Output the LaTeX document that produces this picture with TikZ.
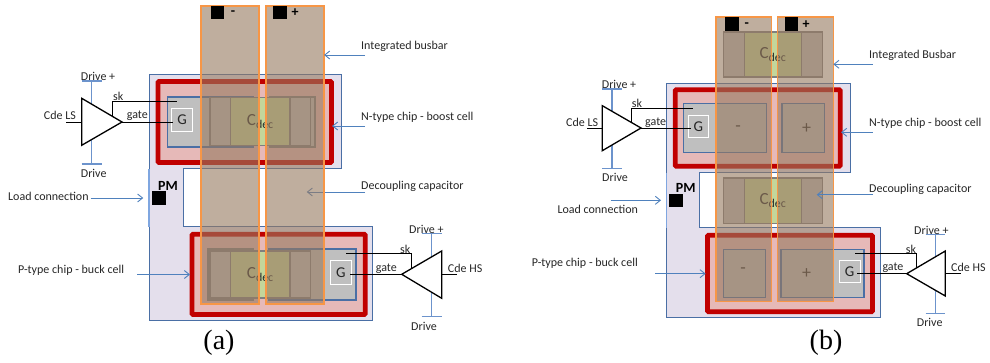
\documentclass[tikz,border=0pt]{standalone}
\usepackage{fontspec}
\setmainfont{Carlito}
\newfontfamily\capfont{Liberation Serif}
\usetikzlibrary{positioning,arrows.meta}
\definecolor{pmfill}{HTML}{E4DFEC}
\definecolor{pmline}{HTML}{4A6FA5}
\definecolor{loadline}{HTML}{7FA6E0}
\definecolor{cellred}{HTML}{C00000}
\definecolor{cellfill}{HTML}{E6B9B8}
\definecolor{chipfill}{HTML}{BFBFBF}
\definecolor{padline}{HTML}{7F7F7F}
\definecolor{capfill}{HTML}{C3D69B}
\definecolor{barfill}{HTML}{977A60}
\definecolor{barline}{HTML}{F79646}
\definecolor{railline}{HTML}{6C93CC}
\definecolor{arrowline}{HTML}{4F81BD}
\definecolor{labeltext}{HTML}{262626}
\tikzset{
	box/.style={rectangle,inner sep=0pt,outer sep=0pt},
	cell/.style={box,draw=cellred,line width=4.8pt,rounded corners=1pt,fill=cellfill},
	chip/.style={box,draw=pmline,line width=1.3pt,fill=chipfill},
	gatebox/.style={box,draw=white,line width=1pt,fill=chipfill,text=labeltext,font=\fontsize{15}{15}\selectfont},
	pad/.style={box,draw=padline,line width=1.3pt,fill=chipfill},
	capbody/.style={box,draw=padline,line width=1.3pt,fill=capfill,text=labeltext,font=\fontsize{17}{17}\selectfont},
	busbar/.style={box,fill=barfill,fill opacity=0.61},
	barframe/.style={draw=barline,line width=1.6pt},
	pin/.style={box,fill=black,minimum size=13.6pt},
	lbl/.style={inner sep=0pt,anchor=west,text=labeltext,font=\fontsize{12}{12}\selectfont},
	pinlbl/.style={inner sep=0pt,text=black,font=\bfseries\fontsize{14}{14}\selectfont},
	chiplbl/.style={inner sep=0pt,text=labeltext,font=\fontsize{18}{18}\selectfont},
	caplbl/.style={inner sep=0pt,font=\capfont\fontsize{28}{28}\selectfont},
	pointer/.style={draw=arrowline,line width=0.9pt,-{Straight Barb[length=5pt,width=8pt]}},
	rail/.style={draw=railline,line width=1.1pt},
	wire/.style={draw=black,line width=0.9pt},
	driver/.style={draw=black,fill=white,line width=1.3pt,line join=miter}
}
\begin{document}
\begin{tikzpicture}[x=1pt, y=-1pt]
	\useasboundingbox (0,0) rectangle (990,363);
	% (a) module outline
	\draw[pmline,fill=pmfill,line width=1pt] (149,75) -- (341.5,75) -- (341.5,169) -- (183,169) -- (183,227) -- (372.5,227) -- (372.5,320.5) -- (149,320.5) -- cycle;
	\draw[loadline,line width=1.2pt] (149,169) -- (149,227);
	% (b) module outline
	\draw[pmline,fill=pmfill,line width=1pt] (666.7,83.3) -- (850,83.3) -- (850,172.7) -- (699,172.7) -- (699,227.7) -- (880,227.7) -- (880,317) -- (666.7,317) -- cycle;
	\draw[loadline,line width=1.2pt] (666.7,172.7) -- (666.7,227.7);

	\node[cell,minimum width=173.5pt,minimum height=81pt] (cellNa) at (244.75,122) {};
	\node[cell,minimum width=173.2pt,minimum height=80.3pt] (cellPa) at (278.6,274.35) {};
	\node[cell,minimum width=165pt,minimum height=76.4pt] (cellNb) at (757.7,128) {};
	\node[cell,minimum width=165pt,minimum height=76.6pt] (cellPb) at (790,273.5) {};

	% chips
	\begin{scope}[every node/.style={chip}]
		\node[minimum width=86pt,minimum height=50pt] (chipNa1) at (210.5,122) {};
		\node[draw=padline,minimum width=45pt,minimum height=50pt] (chipNa2) at (292.5,122) {};
		\node[draw=padline,minimum width=45pt,minimum height=51pt] (chipPa1) at (230.5,274.5) {};
		\node[minimum width=87pt,minimum height=51pt] (chipPa2) at (312.5,274.5) {};
		\node[minimum width=83.4pt,minimum height=49pt] (chipNb1) at (725,128.2) {};
		\node[minimum width=42.7pt,minimum height=49pt] (chipNb2) at (803.35,128.2) {};
		\node[minimum width=42.4pt,minimum height=48.4pt] (chipPb1) at (744.5,273.5) {};
		\node[minimum width=83pt,minimum height=48.4pt] (chipPb2) at (822.5,273.5) {};
	\end{scope}
	\node[gatebox,minimum width=21.7pt,minimum height=23pt] (gNa) at (182,119.8) {G};
	\node[gatebox,minimum width=21.7pt,minimum height=23.3pt] (gPa) at (340.85,272.65) {G};
	\node[gatebox,minimum width=20pt,minimum height=22pt] (gNb) at (698.3,126.3) {G};
	\node[gatebox,minimum width=20.7pt,minimum height=21.7pt] (gPb) at (849.65,271.85) {G};
	\node[chiplbl] (mNb) at (738,129) {-};
	\node[chiplbl] (pNb) at (806.7,129) {+};
	\node[chiplbl] (mPb) at (743,271) {-};
	\node[chiplbl] (pPb) at (806.7,273.3) {+};

	% decoupling capacitors
	\node[capbody,minimum width=59.3pt,minimum height=48pt] (capNa) at (260.35,121.8) {C\textsubscript{dec}};
	\node[pad,minimum width=20.7pt,minimum height=48pt,left=0pt of capNa] (capNaL) {};
	\node[pad,minimum width=20.7pt,minimum height=48pt,right=0pt of capNa] (capNaR) {};
	\node[capbody,minimum width=59.3pt,minimum height=47pt] (capPa) at (260.35,274.4) {C\textsubscript{dec}};
	\node[pad,minimum width=20.7pt,minimum height=47pt,left=0pt of capPa] (capPaL) {};
	\node[pad,minimum width=20.7pt,minimum height=47pt,right=0pt of capPa] (capPaR) {};
	\node[capbody,minimum width=57.4pt,minimum height=45pt] (capTb) at (773,54.5) {C\textsubscript{dec}};
	\node[pad,minimum width=21pt,minimum height=45pt,left=0pt of capTb] (capTbL) {};
	\node[pad,minimum width=21pt,minimum height=45pt,right=0pt of capTb] (capTbR) {};
	\node[capbody,minimum width=57.4pt,minimum height=45.5pt] (capMb) at (773,200.75) {C\textsubscript{dec}};
	\node[pad,minimum width=21pt,minimum height=45.5pt,left=0pt of capMb] (capMbL) {};
	\node[pad,minimum width=21pt,minimum height=45.5pt,right=0pt of capMb] (capMbR) {};

	% this arrow lies under the busbar in (a)
	\coordinate (decFroma) at (365,192);
	\coordinate (decToa) at (306.7,192);
	\draw[pointer] (decFroma) -- (decToa);

	% busbars
	\begin{scope}[every node/.style={busbar}]
		\node[minimum width=58.3pt,minimum height=298pt] (barMa) at (229.85,155) {};
		\node[minimum width=58pt,minimum height=298pt] (barPa) at (295,155) {};
		\node[minimum width=55.6pt,minimum height=284pt] (barMb) at (743.5,159.3) {};
		\node[minimum width=56pt,minimum height=284pt] (barPb) at (805.3,159.3) {};
	\end{scope}
	\draw[barframe] (barMa.north west) rectangle (barMa.south east);
	\draw[barframe] (barPa.north west) rectangle (barPa.south east);
	\draw[barframe] (barMb.north west) rectangle (barMb.south east);
	\draw[barframe] (barPb.north west) rectangle (barPb.south east);
	\node[pin] (pinMa) at (217.5,12.5) {};
	\node[pin] (pinPa) at (279.7,12.5) {};
	\node[pin] (pinLa) at (158.8,198) {};
	\node[pin] (pinMb) at (731.7,24) {};
	\node[pin] (pinPb) at (791.3,24) {};
	\node[pin] (pinLb) at (675.7,200.7) {};
	\node[pinlbl] (txtMa) at (233,13) {-};
	\node[pinlbl] (txtPa) at (295,13) {+};
	\node[pinlbl,anchor=west] (txtPMa) at (158,186) {PM};
	\node[pinlbl] (txtMb) at (746.7,25) {-};
	\node[pinlbl] (txtPb) at (806,25) {+};
	\node[pinlbl,anchor=west] (txtPMb) at (675.7,188.3) {PM};

	% drivers of (a)
	\coordinate (supLaT) at (91.7,81);
	\coordinate (supLaB) at (91.7,164);
	\coordinate (supRaT) at (431.7,233.3);
	\coordinate (supRaB) at (431.7,316.7);
	\draw[rail] (supLaT) -- (supLaB);
	\draw[rail] (81.7,81) -- (101.7,81);
	\draw[rail] (81.7,164) -- (101.7,164);
	\draw[rail] (supRaT) -- (supRaB);
	\draw[rail] (421.7,233.3) -- (441.7,233.3);
	\draw[rail] (421.7,316.7) -- (441.7,316.7);
	\coordinate (tipLa) at (122,122);
	\coordinate (tipRa) at (401.7,274.3);
	\coordinate (inLa) at (66,122);
	\coordinate (inRa) at (456.7,274.3);
	\draw[wire] (inLa) -- (81.7,122);
	\draw[wire] (inRa) -- (441.7,274.3);
	\draw[driver] (81.7,98.3) -- (tipLa) -- (81.7,145.3) -- cycle;
	\draw[driver] (441.7,251) -- (tipRa) -- (441.7,298.3) -- cycle;
	\draw[wire] (112.3,116) -- (112.3,101) -- (176.7,101);
	\draw[wire] (tipLa) -- (173.3,122);
	\draw[wire] (346,253.3) -- (411,253.3) -- (411,268);
	\draw[wire] (tipRa) -- (350,274.3);

	% drivers of (b)
	\coordinate (supLbT) at (612,89);
	\coordinate (supLbB) at (612,168.3);
	\coordinate (supRbT) at (935.7,234.3);
	\coordinate (supRbB) at (935.7,313.7);
	\draw[rail] (supLbT) -- (supLbB);
	\draw[rail] (602.3,89) -- (621.7,89);
	\draw[rail] (602.3,168.3) -- (621.7,168.3);
	\draw[rail] (supRbT) -- (supRbB);
	\draw[rail] (925.7,234.3) -- (945.3,234.3);
	\draw[rail] (925.7,313.7) -- (945.3,313.7);
	\coordinate (tipLb) at (641,128);
	\coordinate (tipRb) at (906.7,273.7);
	\coordinate (inLb) at (587.3,128);
	\coordinate (inRb) at (960.7,273.7);
	\draw[wire] (inLb) -- (602.3,128);
	\draw[wire] (inRb) -- (945.3,273.7);
	\draw[driver] (602.3,105.7) -- (tipLb) -- (602.3,150.7) -- cycle;
	\draw[driver] (945.3,251) -- (tipRb) -- (945.3,296) -- cycle;
	\draw[wire] (631.3,122) -- (631.3,108.3) -- (693.3,108.3);
	\draw[wire] (tipLb) -- (690.7,128);
	\draw[wire] (855,253.7) -- (916.3,253.7) -- (916.3,268);
	\draw[wire] (tipRb) -- (856.7,273.7);

	% pointers
	\draw[pointer] (365,55) -- (barPa.east |- 0,55);
	\draw[pointer] (365,126) -- (332,126);
	\draw[pointer] (90.7,198) -- (143.3,198);
	\draw[pointer] (137,274.5) -- (190,274.5);
	\draw[pointer] (872.7,64.3) -- (barPb.east |- 0,64.3);
	\draw[pointer] (872.7,132.3) -- (841,132.3);
	\draw[pointer] (872.7,194.7) -- (816.7,194.7);
	\draw[pointer] (610.7,200.3) -- (661,200.3);
	\draw[pointer] (655,273.7) -- (705.7,273.7);

	% labels of (a)
	\begin{scope}[every node/.style={lbl}]
		\node (lblDpLa) at (80.7,76) {Drive +};
		\node (lblDmLa) at (80.7,173) {Drive};
		\node (lblSkLa) at (113,96) {sk};
		\node (lblGtLa) at (126.7,115.7) {gate};
		\node (lblInLa) at (43.7,115) {Cde LS};
		\node (lblLoada) at (8,196) {Load connection};
		\node (lblPa) at (18,270) {P-type chip - buck cell};
		\node (lblBara) at (361,46) {Integrated busbar};
		\node (lblNa) at (361,117) {N-type chip - boost cell};
		\node (lblDeca) at (361,186) {Decoupling capacitor};
		\node (lblDpRa) at (409,229) {Drive +};
		\node (lblDmRa) at (411,326) {Drive};
		\node (lblSkRa) at (400,249) {sk};
		\node (lblGtRa) at (375.7,268.7) {gate};
		\node (lblInRa) at (447.7,268) {Cde HS};
	\end{scope}
	% labels of (b)
	\begin{scope}[every node/.style={lbl}]
		\node (lblDpLb) at (601.7,84.7) {Drive +};
		\node (lblDmLb) at (602,177) {Drive};
		\node (lblSkLb) at (631.7,103.7) {sk};
		\node (lblGtLb) at (645,123) {gate};
		\node (lblInLb) at (566,122.3) {Cde LS};
		\node (lblLoadb) at (557.3,209.3) {Load connection};
		\node (lblPb) at (531.7,263.3) {P-type chip - buck cell};
		\node (lblBarb) at (869,55.3) {Integrated Busbar};
		\node (lblNb) at (869,123.3) {N-type chip - boost cell};
		\node (lblDecb) at (869,189.7) {Decoupling capacitor};
		\node (lblDpRb) at (914,230.7) {Drive +};
		\node (lblDmRb) at (916.7,322.3) {Drive};
		\node (lblSkRb) at (905.7,249.3) {sk};
		\node (lblGtRb) at (882.3,267.7) {gate};
		\node (lblInRb) at (951,267) {Cde HS};
	\end{scope}
	\node[caplbl] (capta) at (219,343) {(a)};
	\node[caplbl] (captb) at (826,343) {(b)};
\end{tikzpicture}
\end{document}
